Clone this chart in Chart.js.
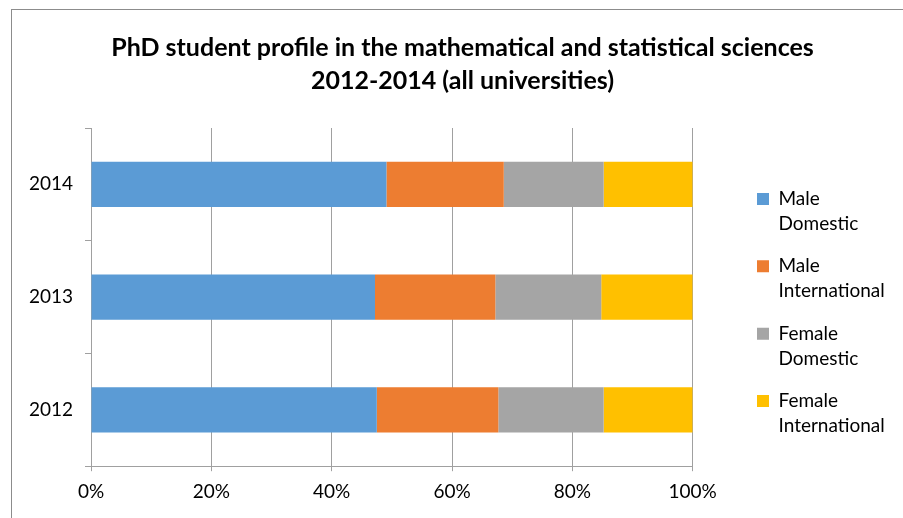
<!DOCTYPE html>
<html>
<head>
<meta charset="utf-8">
<script src="https://cdn.jsdelivr.net/npm/chart.js@4/dist/chart.umd.min.js"></script>
<style>
  html, body { margin: 0; padding: 0; background: #fff; }
  #wrap { width: 903px; height: 518px; position: relative; }
</style>
</head>
<body>
<div id="wrap"><canvas id="barChart"></canvas></div>
<script>
const years = ['2014', '2013', '2012'];
const maleDomestic = [49.1, 47.2, 47.5];
const maleInternational = [19.5, 20.0, 20.2];
const femaleDomestic = [16.6, 17.6, 17.5];
const femaleInternational = [14.8, 15.2, 14.8];
const xTicks = [0, 20, 40, 60, 80, 100];

const font = 'Lato, "Open Sans", sans-serif';

// grey frame round the chart, like the spreadsheet's chart border
const frame = {
  id: 'frame',
  beforeDraw(chart) {
    const { ctx, width, height } = chart;
    ctx.save();
    ctx.fillStyle = '#fff';
    ctx.fillRect(0, 0, width, height);
    ctx.strokeStyle = '#8c8c8c';
    ctx.lineWidth = 1;
    ctx.strokeRect(11.5, 9.5, width + 20, height + 20);
    ctx.restore();
  },
};

// give the legend a fixed width so the two-line labels are never cut
const legendWidth = {
  id: 'legendWidth',
  beforeLayout(chart) {
    const lg = chart.legend;
    if (lg && !lg.fixedFit) {
      const fit = lg.fit.bind(lg);
      lg.fit = function () {
        fit();
        this.width = 152;
      };
      lg.fixedFit = true;
    }
  },
};

const ctxB = document.getElementById('barChart').getContext('2d');
const myBarChart = new Chart(ctxB, {
  type: 'bar',
  data: {
    labels: years,
    datasets: [
      { label: 'Male Domestic', data: maleDomestic, backgroundColor: '#5b9bd5' },
      { label: 'Male International', data: maleInternational, backgroundColor: '#ed7d31' },
      { label: 'Female Domestic', data: femaleDomestic, backgroundColor: '#a5a5a5' },
      { label: 'Female International', data: femaleInternational, backgroundColor: '#ffc000' },
    ],
  },
  options: {
    indexAxis: 'y',
    responsive: true,
    maintainAspectRatio: false,
    animation: false,
    datasets: {
      bar: { categoryPercentage: 1, barPercentage: 0.4 },
    },
    layout: { padding: { left: 33.3, right: 11.3, top: 1, bottom: 6 } },
    scales: {
      x: {
        stacked: true,
        min: 0,
        max: 100,
        afterBuildTicks(scale) {
          scale.ticks = xTicks.map((v) => ({ value: v }));
        },
        ticks: {
          color: '#000',
          font: { family: font, size: 19 },
          padding: 9,
          callback: (v) => v + '%',
        },
        grid: { color: '#a0a0a0', tickLength: 5 },
        border: { color: '#a0a0a0' },
      },
      y: {
        stacked: true,
        afterFit(scale) {
          scale.width = 57.7;
        },
        ticks: {
          color: '#000',
          font: { family: font, size: 19 },
          mirror: true,
          padding: -62,
        },
        grid: { drawOnChartArea: false, color: '#a0a0a0', tickLength: 6 },
        border: { color: '#a0a0a0' },
      },
      // empty space between the plot and the legend
      gap: {
        type: 'linear',
        position: 'right',
        grid: { display: false },
        border: { display: false },
        ticks: { display: false },
        afterFit(scale) {
          scale.width = 47;
        },
      },
    },
    plugins: {
      title: {
        display: true,
        text: ['PhD student profile in the mathematical and statistical sciences', '2012-2014 (all universities)'],
        color: '#000',
        font: { family: font, size: 25, weight: 'bold', lineHeight: 1.32 },
        padding: { top: 30, bottom: 31 },
      },
      legend: {
        position: 'right',
        // empty title only pushes the items down
        title: {
          display: true,
          text: '',
          font: { size: 10, lineHeight: 1.2 },
          padding: { top: 0, bottom: 106 },
        },
        labels: {
          color: '#000',
          boxWidth: 12,
          boxHeight: 12,
          padding: 17.3,
          font: { family: font, size: 19, lineHeight: 1.316 },
          generateLabels(chart) {
            return chart.data.datasets.map((ds, i) => ({
              text: ds.label.split(' '),
              fillStyle: ds.backgroundColor,
              strokeStyle: ds.backgroundColor,
              fontColor: '#000',
              lineWidth: 0,
              hidden: false,
              datasetIndex: i,
            }));
          },
        },
      },
      tooltip: { enabled: false },
    },
  },
  plugins: [frame, legendWidth],
});
</script>
</body>
</html>
